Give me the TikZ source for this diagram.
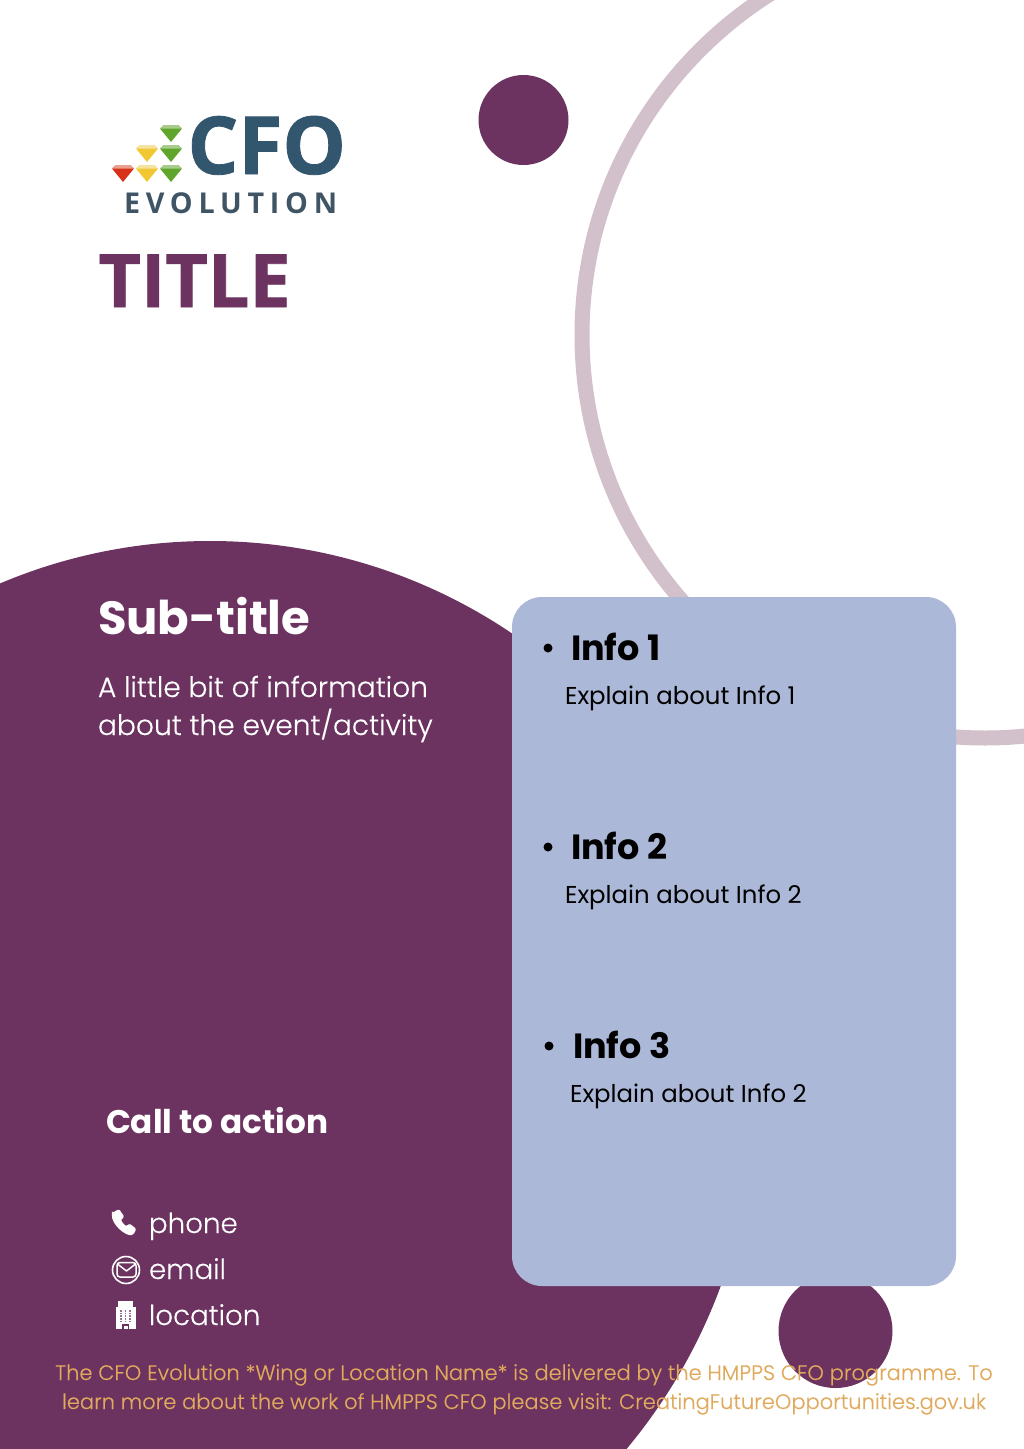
\documentclass[tikz,border=0pt]{standalone}
\usepackage{fontspec}
\setmainfont{Poppins}
\newfontfamily\plight[FakeBold=0.25]{Poppins Light}
\newfontfamily\osans{Open Sans}
\definecolor{plum}{HTML}{6C3360}
\definecolor{ringc}{HTML}{D2C0CB}
\definecolor{panel}{HTML}{ACB8D8}
\definecolor{foot}{HTML}{E0A95C}
\definecolor{cfo}{HTML}{33566F}
\definecolor{evo}{HTML}{3F5566}
\definecolor{gemg}{HTML}{5FA52B}
\definecolor{gemgl}{HTML}{A8CC8C}
\definecolor{gemy}{HTML}{F2C832}
\definecolor{gemyl}{HTML}{F4E4A0}
\definecolor{gemr}{HTML}{D9301A}
\definecolor{gemrl}{HTML}{E8A08C}
\tikzset{
  x=1pt,y=-1pt,
  txt/.style={anchor=base west,inner sep=0pt,outer sep=0pt},
  head/.style={txt,font=\fontsize{35}{35}\selectfont\bfseries,text=black},
  body/.style={txt,font=\fontsize{24.4}{24.4}\selectfont,text=black},
  contact/.style={txt,font=\plight\fontsize{27.7}{27.7}\selectfont,text=white},
  wtext/.style={txt,font=\plight\fontsize{28.1}{28.1}\selectfont,text=white},
  foottext/.style={anchor=base,inner sep=0pt,font=\plight\fontsize{21}{21}\selectfont,text=foot},
  dot/.style={circle,fill=black,minimum size=9pt,inner sep=0pt},
}
\newcommand{\gem}[4]{% x y main light
  \fill[#3] (#1-11,#2-5) -- (#1-7,#2-8.5) -- (#1+7,#2-8.5) -- (#1+11,#2-5) -- (#1,#2+8.5) -- cycle;
  \fill[#4] (#1-7,#2-8.5) -- (#1+7,#2-8.5) -- (#1+11,#2-5) -- (#1-11,#2-5) -- cycle;
}
\begin{document}
\begin{tikzpicture}
\useasboundingbox (0,0) rectangle (1024,1449);
\fill[white] (0,0) rectangle (1024,1449);
% ring
\begin{scope}
\clip (0,0) rectangle (1024,1449);
\draw[ringc,line width=15pt] (985,335) circle[radius=403];
\end{scope}
% big shape
\begin{scope}
\clip (0,0) rectangle (1024,1449);
\fill[plum] (210,1093) ellipse[x radius=545,y radius=552];
\end{scope}
\fill[plum] (523.5,120) circle[radius=45];
\fill[plum] (835.5,1331) circle[radius=57];
% panel
\fill[panel,rounded corners=30pt] (512,597) rectangle (956,1286);
% logo
\gem{171}{133.5}{gemg}{gemgl}
\gem{147}{153.5}{gemy}{gemyl}
\gem{171}{153.5}{gemg}{gemgl}
\gem{123}{173.5}{gemr}{gemrl}
\gem{147}{173.5}{gemy}{gemyl}
\gem{171}{173.5}{gemg}{gemgl}
\node[txt,text=cfo,font=\osans\bfseries\addfontfeature{FakeBold=1}\fontsize{80}{80}\selectfont] (cfo) at (187.5,174) {CFO};
\node[txt,text=evo,font=\osans\bfseries\fontsize{28.7}{28.7}\selectfont] (evol) at (124,213) {\addfontfeature{LetterSpace=20}EVOLUTION};
\node[txt,text=plum,font=\osans\bfseries\addfontfeature{FakeBold=1}\fontsize{73.5}{73.5}\selectfont] (title) at (98.5,307) {TITLE};
% left
\node[txt,text=white,font=\fontsize{46.5}{46.5}\selectfont\bfseries] (sub) at (98,634) {Sub-title};
\node[wtext] (l1) at (98,697) {A little bit of information};
\node[wtext] (l2) at (98,735) {about the event/activity};
\node[txt,text=white,font=\fontsize{32.7}{32.7}\selectfont\bfseries] (cta) at (106,1133) {Call to action};
% contact
\node[contact] (phone) at (149,1233) {phone};
\node[contact] (email) at (149,1279) {email};
\node[contact] (loc) at (149,1325) {location};
% phone icon
\fill[white,rounded corners=1.5pt] (112,1213) -- (119,1209) -- (124.5,1217) -- (120.5,1220) -- (126,1226.5) -- (129.5,1223.5) -- (136.5,1229) -- (133,1235) .. controls (125,1236) and (111,1224) .. cycle;
% email icon
\draw[white,line width=1.6pt] (126,1270) circle[radius=13.5];
\draw[white,line width=1.5pt,rounded corners=3pt] (117,1262.5) rectangle (136,1277);
\draw[white,line width=1.5pt,line join=round] (117.5,1264) -- (126.5,1271) -- (135.5,1264);
% building icon
\fill[white] (115.5,1307) rectangle (135.5,1329);
\fill[white] (118,1301) rectangle (133,1306.5);
\foreach \xx in {121,125.5,130}{
  \draw[plum!70!white,line width=1.3pt,dash pattern=on 1.5pt off 1.2pt] (\xx,1310) -- (\xx,1323);
}
\fill[plum] (122,1324) rectangle (129,1329);
\fill[white] (123.5,1325.5) rectangle (127.5,1329);
% panel text
\node[dot] (d1) at (548,648) {};
\node[head] (h1) at (571,660) {Info 1};
\node[body] (b1) at (565,704) {Explain about Info 1};
\node[dot] (d2) at (548,847) {};
\node[head] (h2) at (571,859) {Info 2};
\node[body] (b2) at (565,903) {Explain about Info 2};
\node[dot] (d3) at (549,1046) {};
\node[head] (h3) at (573,1058) {Info 3};
\node[body] (b3) at (570,1102) {Explain about Info 2};
% footer
\node[foottext] (f1) at (524,1380) {The CFO Evolution *Wing or Location Name* is delivered by the HMPPS CFO programme. To};
\node[foottext] (f2) at (524,1409) {learn more about the work of HMPPS CFO please visit: CreatingFutureOpportunities.gov.uk};
\end{tikzpicture}
\end{document}
